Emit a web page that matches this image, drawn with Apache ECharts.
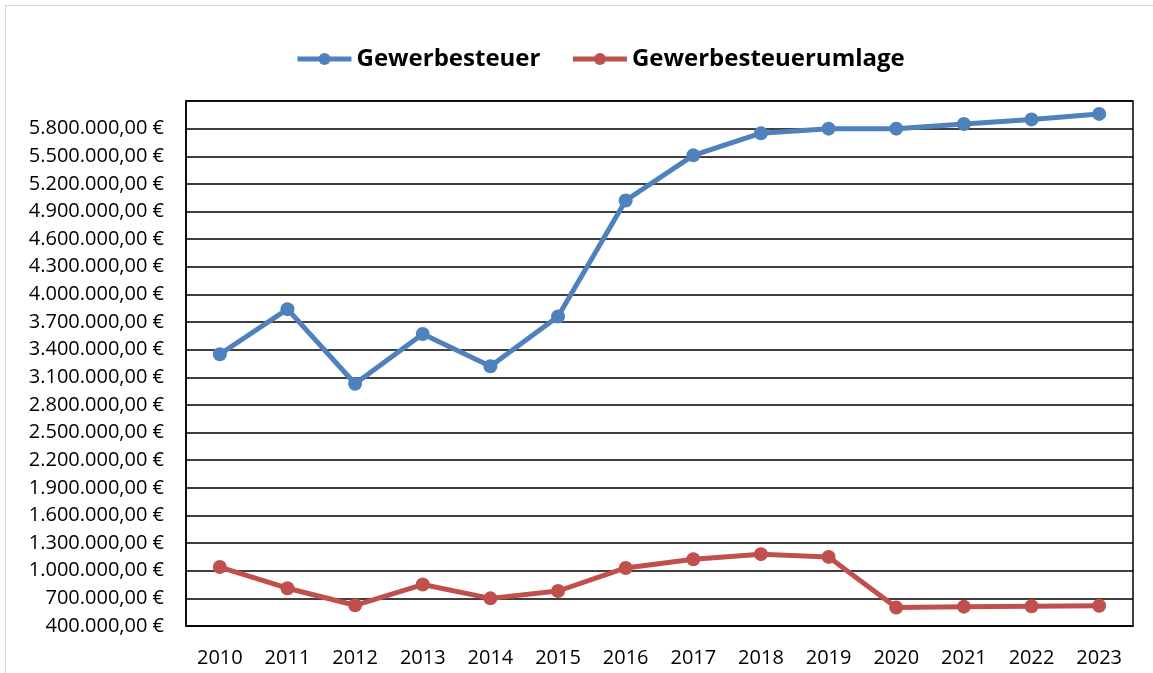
<!DOCTYPE html>
<html>
<head>
<meta charset="utf-8">
<script src="https://cdn.jsdelivr.net/npm/echarts@6/dist/echarts.min.js"></script>
<style>
html,body{margin:0;padding:0;background:#fff;}
#frame{position:absolute;left:5px;top:5px;width:1160px;height:680px;border:1px solid #d9d9d9;}
#main{position:absolute;left:0;top:0;width:1153px;height:673px;}
</style>
</head>
<body>
<div id="frame"></div>
<div id="main"></div>
<script>
// Jahre
var jahre = ['2010','2011','2012','2013','2014','2015','2016','2017','2018','2019','2020','2021','2022','2023'];
// Werte in Euro
var gewerbesteuer = [3350000,3840000,3030000,3570000,3220000,3760000,5020000,5510000,5750000,5800000,5800000,5850000,5900000,5960000];
var umlage = [1040000,810000,625000,850000,700000,780000,1030000,1125000,1180000,1150000,600000,610000,615000,620000];

function euro(v){
	var s = Math.round(v).toString();
	var out = '';
	while(s.length > 3){
		out = '.' + s.slice(-3) + out;
		s = s.slice(0, -3);
	}
	return s + out + ',00 €';
}

var myChart = echarts.init(document.getElementById('main'));
var schrift = 'Open Sans';
var option = {
	animation: false,
	legend: {
		top: 42,
		left: 290,
		itemWidth: 54,
		itemHeight: 15,
		itemGap: 30,
		lineStyle: {width: 5},
		textStyle: {fontFamily: schrift, fontSize: 24, fontWeight: 'bold', color: '#000'},
		data: ['Gewerbesteuer','Gewerbesteuerumlage']
	},
	grid: {
		left: 186, right: 20, top: 101, bottom: 47,
		show: true, borderColor: '#000', borderWidth: 1.5
	},
	xAxis: {
		type: 'category',
		data: jahre,
		boundaryGap: true,
		axisLine: {lineStyle: {color: '#000', width: 1.5}},
		axisTick: {show: false},
		axisLabel: {color: '#000', fontFamily: schrift, fontSize: 20, margin: 22}
	},
	yAxis: {
		type: 'value',
		min: 400000,
		max: 6100000,
		interval: 300000,
		axisLine: {show: true, lineStyle: {color: '#000', width: 1.5}},
		axisTick: {show: false},
		splitLine: {lineStyle: {color: '#000', width: 1.5}},
		axisLabel: {
			color: '#000', fontFamily: schrift, fontSize: 20, margin: 22,
			formatter: function(v){ return v >= 6100000 ? '' : euro(v); }
		}
	},
	series: [
		{
			name: 'Gewerbesteuer',
			type: 'line',
			data: gewerbesteuer,
			symbol: 'circle',
			symbolSize: 14,
			lineStyle: {width: 5, color: '#4F81BD'},
			itemStyle: {color: '#4F81BD'}
		},
		{
			name: 'Gewerbesteuerumlage',
			type: 'line',
			data: umlage,
			symbol: 'circle',
			symbolSize: 14,
			lineStyle: {width: 5, color: '#C0504D'},
			itemStyle: {color: '#C0504D'}
		}
	]
};
myChart.setOption(option);
</script>
</body>
</html>
